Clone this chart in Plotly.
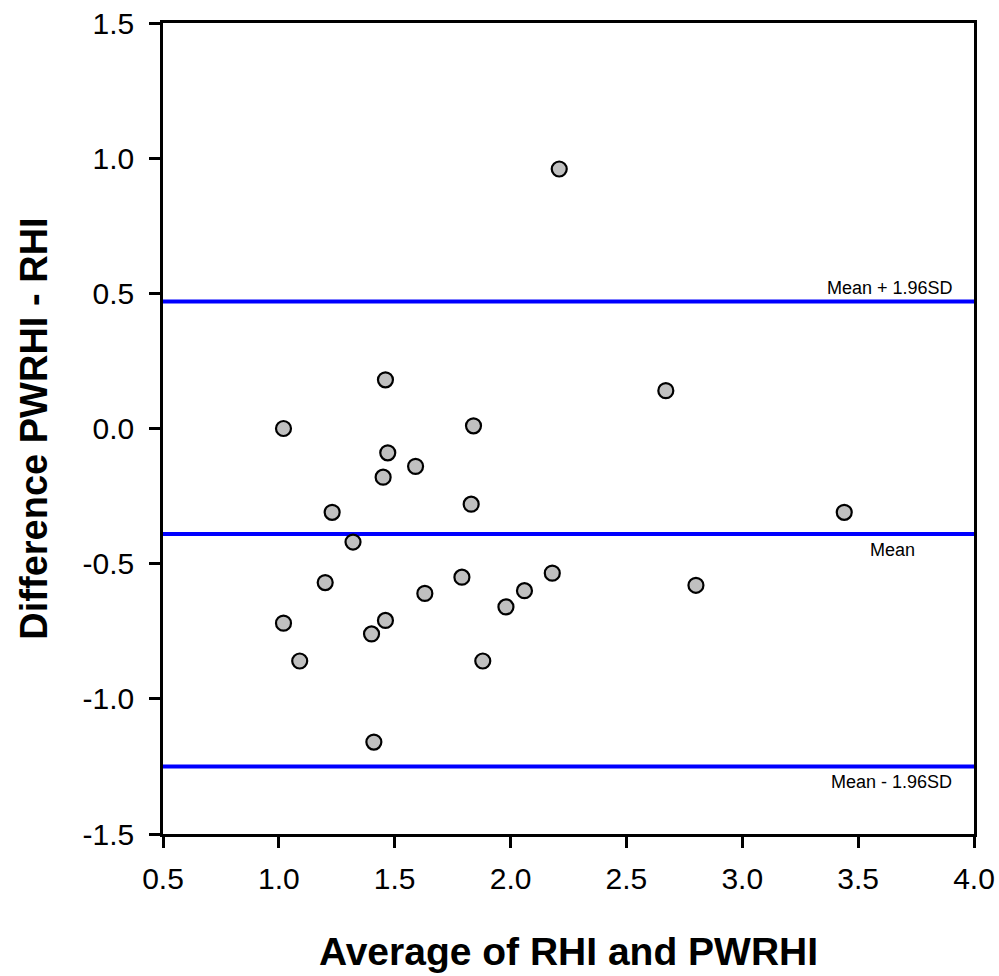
import plotly.graph_objects as go

avg = [1.02, 1.02, 1.09, 1.20, 1.23, 1.32, 1.40, 1.41, 1.45, 1.46, 1.47, 1.46,
       1.59, 1.63, 1.79, 1.83, 1.84, 1.88, 1.98, 2.06, 2.18, 2.21, 2.67, 2.80, 3.44]
diff = [0.00, -0.72, -0.86, -0.57, -0.31, -0.42, -0.76, -1.16, -0.18, 0.18, -0.09, -0.71,
        -0.14, -0.61, -0.55, -0.28, 0.01, -0.86, -0.66, -0.60, -0.535, 0.96, 0.14, -0.58, -0.31]

mean_d = -0.39
upper = 0.47
lower = -1.25
x_range = [0.5, 4.0]
y_range = [-1.5, 1.5]
x_ticks = [0.5, 1.0, 1.5, 2.0, 2.5, 3.0, 3.5, 4.0]
y_ticks = [-1.5, -1.0, -0.5, 0.0, 0.5, 1.0, 1.5]

FONT = "Liberation Sans, Arial, sans-serif"

fig = go.Figure()
for yv in [upper, mean_d, lower]:
    fig.add_trace(go.Scatter(x=x_range, y=[yv, yv], mode="lines",
                             line=dict(color="#0000ff", width=4),
                             hoverinfo="skip", showlegend=False))

fig.add_trace(go.Scatter(x=avg, y=diff, mode="markers",
                         marker=dict(size=15, color="#c0c0c0",
                                     line=dict(color="black", width=2.2)),
                         showlegend=False))

fig.add_annotation(x=3.92, y=upper, text="Mean + 1.96SD", showarrow=False,
                   xanchor="right", yanchor="bottom", yshift=1,
                   font=dict(family=FONT, size=18, color="black"))
fig.add_annotation(x=3.65, y=mean_d, text="Mean", showarrow=False,
                   xanchor="center", yanchor="top", yshift=-4,
                   font=dict(family=FONT, size=18, color="black"))
fig.add_annotation(x=3.912, y=lower, text="Mean - 1.96SD", showarrow=False,
                   xanchor="right", yanchor="top", yshift=-4,
                   font=dict(family=FONT, size=18, color="black"))

fig.update_layout(
    width=999, height=976,
    margin=dict(l=163, r=25, t=23, b=142, autoexpand=False),
    paper_bgcolor="white", plot_bgcolor="white",
    font=dict(family=FONT, color="black"),
    xaxis=dict(range=x_range, tickvals=x_ticks, ticktext=[f"{v:.1f}" for v in x_ticks],
               showgrid=False, zeroline=False, showline=True, mirror=True,
               linecolor="black", linewidth=2.5, ticks="outside", ticklen=11,
               tickwidth=2.5, tickcolor="black", ticklabelstandoff=5,
               automargin=False,
               tickfont=dict(family=FONT, size=30),
               title=dict(text="<b>Average of RHI and PWRHI</b>", standoff=44,
                          font=dict(family=FONT, size=39))),
    yaxis=dict(range=y_range, tickvals=y_ticks, ticktext=[f"{v:.1f}" for v in y_ticks],
               showgrid=False, zeroline=False, showline=True, mirror=True,
               linecolor="black", linewidth=2.5, ticks="outside", ticklen=11,
               tickwidth=2.5, tickcolor="black", ticklabelstandoff=9,
               automargin=False,
               tickfont=dict(family=FONT, size=30),
               title=dict(text="<b>Difference PWRHI - RHI</b>", standoff=24,
                          font=dict(family=FONT, size=38))),
)

fig.write_html("out.html")
